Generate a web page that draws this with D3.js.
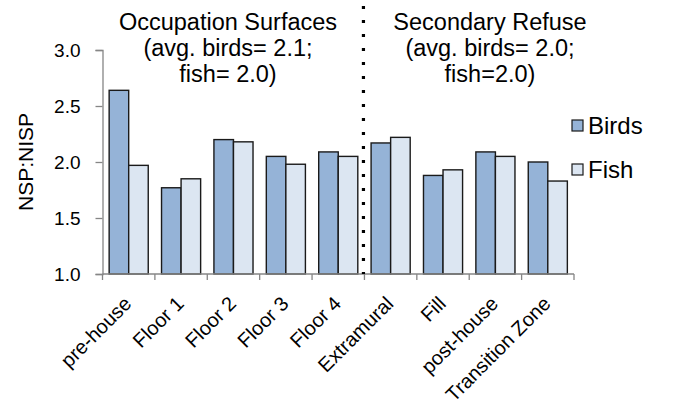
<!DOCTYPE html>
<html>
<head>
<meta charset="utf-8">
<script src="https://cdn.jsdelivr.net/npm/d3@7"></script>
<style>
  body { margin: 0; background: #fff; }
  svg text { font-family: "Liberation Sans", Arial, sans-serif; fill: #000; }
</style>
</head>
<body>
<svg id="chart" width="686" height="411"></svg>
<script>
// data
var categories = ['pre-house', 'Floor 1', 'Floor 2', 'Floor 3', 'Floor 4',
                  'Extramural', 'Fill', 'post-house', 'Transition Zone'];
var birds = [2.64, 1.77, 2.20, 2.05, 2.09, 2.17, 1.88, 2.09, 2.00];
var fish  = [1.97, 1.85, 2.18, 1.98, 2.05, 2.22, 1.93, 2.05, 1.83];
var seriesNames = ['Birds', 'Fish'];
var yTicks = [1.0, 1.5, 2.0, 2.5, 3.0];
var groupTitles = [
    ['Occupation Surfaces', '(avg. birds= 2.1;', 'fish= 2.0)'],
    ['Secondary Refuse', '(avg. birds= 2.0;', 'fish=2.0)']
];

var colors = ['#95b3d7', '#dce6f2'];
var axisColor = '#868686';
var svg = d3.select('#chart');
var plot = {l: 102.5, r: 574, t: 50, b: 274};

var x = d3.scaleBand().domain(categories).range([plot.l, plot.r]).paddingInner(0).paddingOuter(0);
var xs = d3.scaleBand().domain(seriesNames).range([0, x.bandwidth()]).paddingInner(0).paddingOuter(0.34);
var y = d3.scaleLinear().domain([1, 3]).range([plot.b, plot.t]);

// bars
var rows = categories.map(function (c, i) { return {cat: c, vals: [birds[i], fish[i]]}; });
var g = svg.selectAll('.cat').data(rows).enter().append('g')
    .attr('transform', function (d) { return 'translate(' + [x(d.cat), 0] + ')'; });
g.selectAll('rect')
    .data(function (d) { return d.vals.map(function (v, k) { return {s: seriesNames[k], v: v, k: k}; }); })
    .enter().append('rect')
    .attr('x', function (d) { return xs(d.s); })
    .attr('width', xs.bandwidth())
    .attr('y', function (d) { return y(d.v); })
    .attr('height', function (d) { return y(1) - y(d.v); })
    .style('fill', function (d) { return colors[d.k]; })
    .style('stroke', '#1a1a1a')
    .style('stroke-width', 1.4);

// y axis
var yAxis = svg.append('g')
    .attr('transform', 'translate(' + [plot.l, 0] + ')')
    .call(d3.axisLeft(y).tickValues(yTicks).tickFormat(d3.format('.1f')).tickSizeOuter(0).tickSize(7).tickPadding(15));
yAxis.select('.domain').style('stroke', axisColor).style('stroke-width', 1.3);
yAxis.selectAll('line').style('stroke', axisColor).style('stroke-width', 1.3);
yAxis.selectAll('text').style('font-size', '19px').style('font-family', '"Liberation Sans", Arial, sans-serif');

// x axis with boundary ticks
var xAxisG = svg.append('g').attr('transform', 'translate(0,' + plot.b + ')');
xAxisG.append('line').attr('x1', plot.l).attr('x2', plot.r)
    .style('stroke', axisColor).style('stroke-width', 1.3);
var bounds = categories.map(function (c) { return x(c); }).concat([plot.r]);
xAxisG.selectAll('.xtick').data(bounds).enter().append('line')
    .attr('x1', function (d) { return d; }).attr('x2', function (d) { return d; })
    .attr('y1', 0).attr('y2', 6)
    .style('stroke', axisColor).style('stroke-width', 1.3);
xAxisG.selectAll('.xlab').data(categories).enter().append('text')
    .attr('transform', function (d) {
        return 'translate(' + [x(d) + x.bandwidth() / 2 + 4, 31] + ') rotate(-45)';
    })
    .style('text-anchor', 'end')
    .style('font-size', '20px')
    .text(function (d) { return d; });

// y axis title
svg.append('text')
    .attr('transform', 'translate(' + [33, (plot.t + plot.b) / 2] + ') rotate(-90)')
    .style('text-anchor', 'middle')
    .style('font-size', '21px')
    .text('NSP:NISP');

// dotted divider
var divX = x('Extramural') - 1;
svg.append('line')
    .attr('x1', divX).attr('x2', divX)
    .attr('y1', 6).attr('y2', plot.b)
    .style('stroke', '#000').style('stroke-width', 3.2)
    .style('stroke-dasharray', '3,11');

// group titles
var titleCenters = [228, 490];
groupTitles.forEach(function (lines, i) {
    lines.forEach(function (t, j) {
        svg.append('text')
            .attr('x', titleCenters[i])
            .attr('y', 30 + j * 26)
            .style('text-anchor', 'middle')
            .style('font-size', '23.5px')
            .text(t);
    });
});

// legend
var leg = svg.selectAll('.leg').data(seriesNames).enter().append('g')
    .attr('transform', function (d, i) { return 'translate(' + [572, 120 + i * 44] + ')'; });
leg.append('rect').attr('width', 11).attr('height', 11)
    .style('fill', function (d, i) { return colors[i]; })
    .style('stroke', '#1a1a1a').style('stroke-width', 1.2);
leg.append('text').attr('x', 16).attr('y', 14)
    .style('font-size', '24px')
    .text(function (d) { return d; });
</script>
</body>
</html>
